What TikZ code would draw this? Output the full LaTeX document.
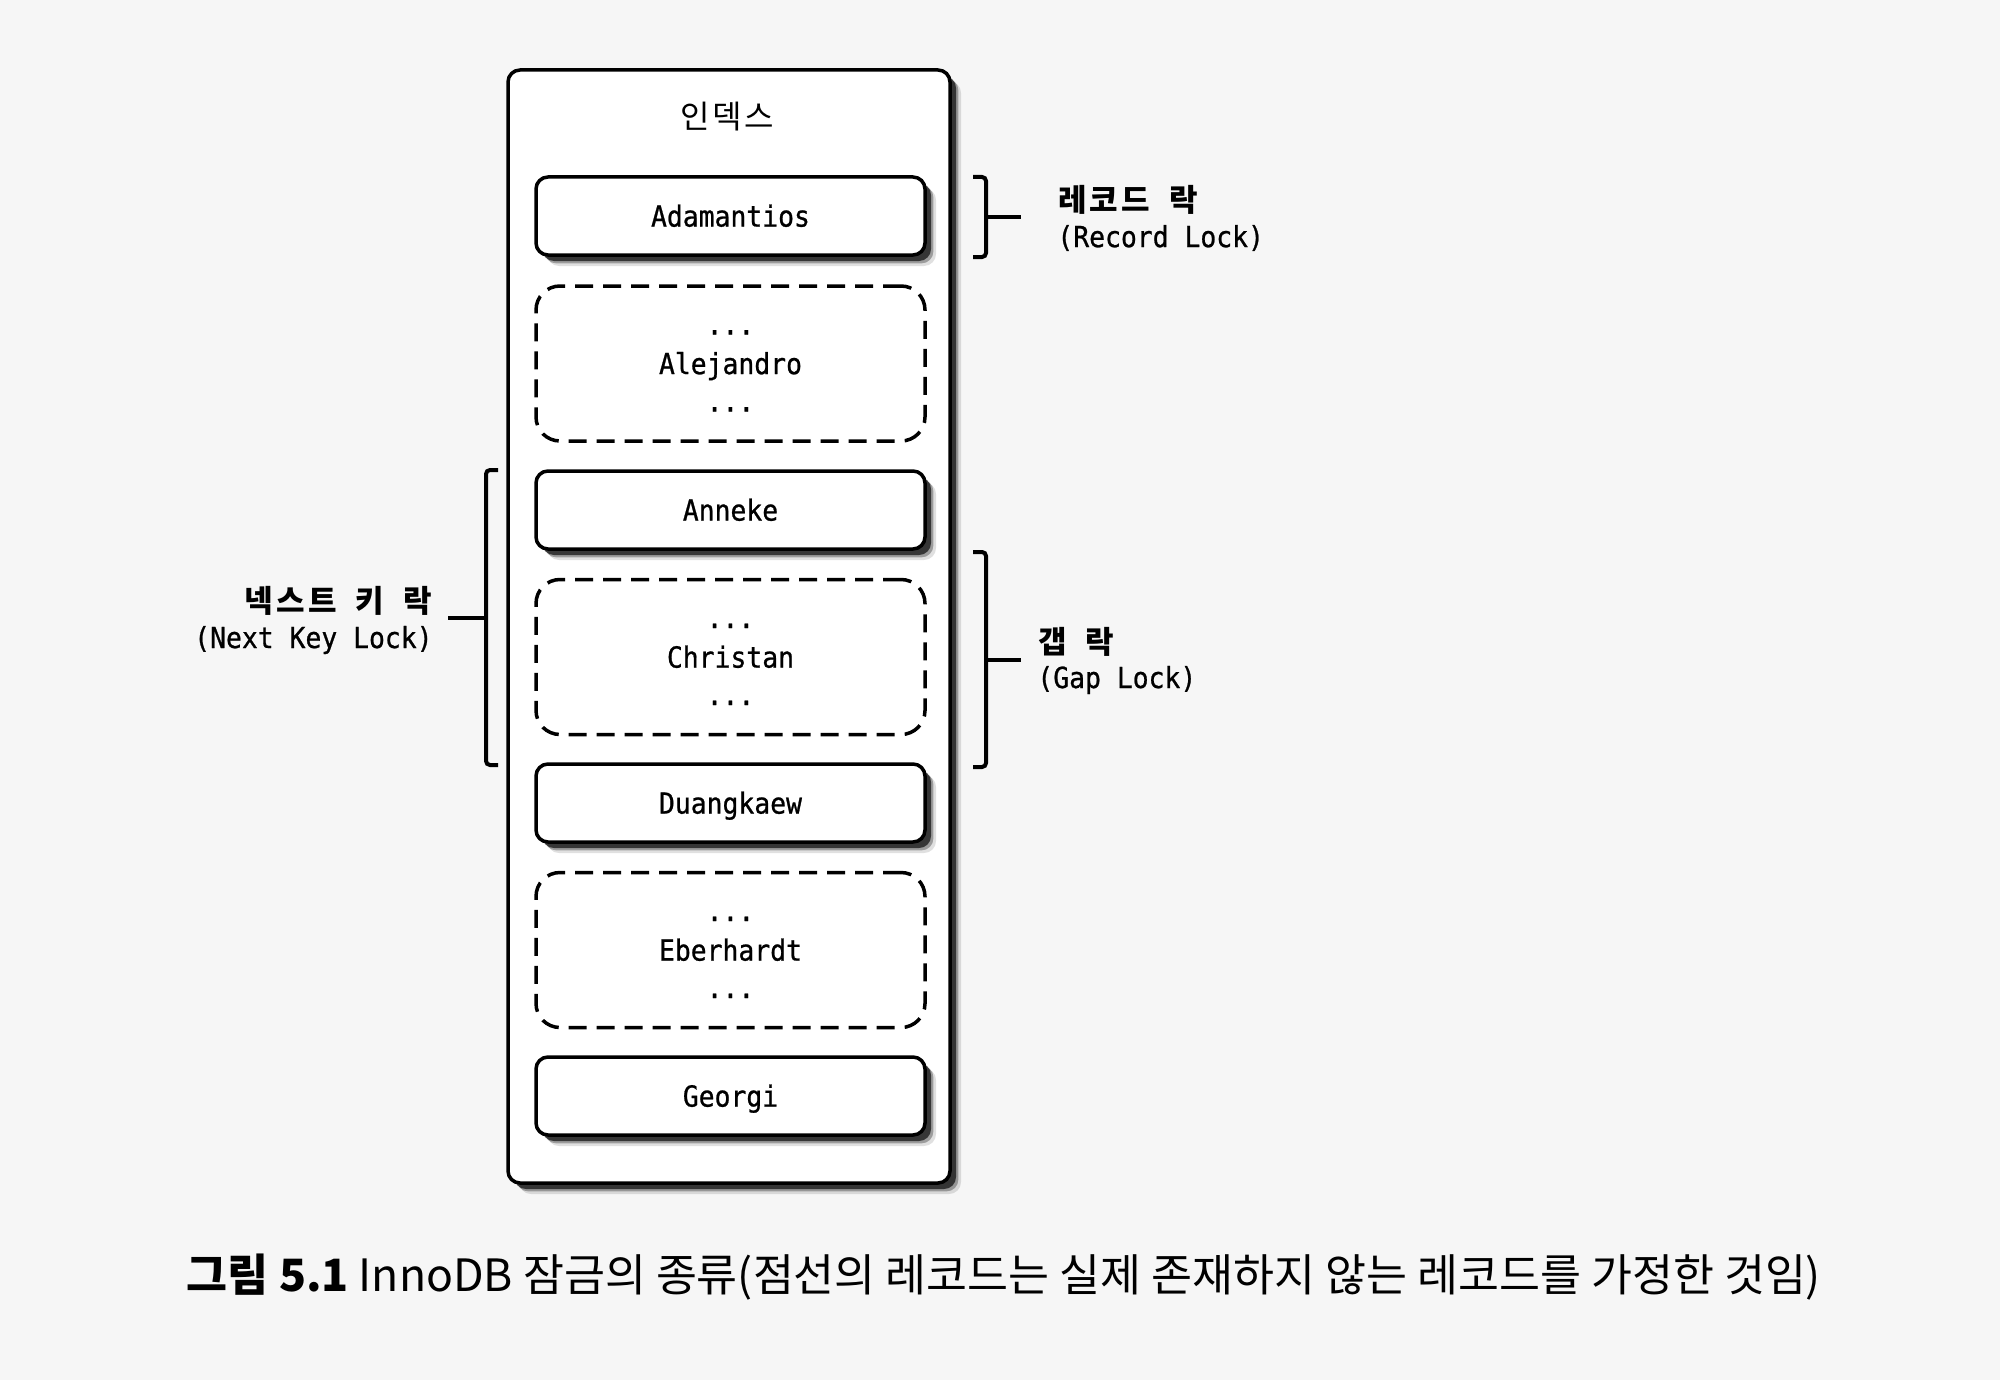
\documentclass[tikz,border=0pt]{standalone}
\usepackage{graphicx}
\usepackage{fontspec}
\setmainfont{Noto Sans CJK KR}
\newfontfamily\mono[FakeStretch=0.91,FakeBold=0.8]{DejaVu Sans Mono}
\newfontfamily\kr{Noto Sans CJK KR}
\usetikzlibrary{shadows,calc}
\definecolor{bgcol}{RGB}{246,246,246}
\newcommand\cellk[1]{\makebox[15.9pt]{#1}}
\newcommand\spk{\hspace{7.95pt}}
\begin{document}
\begin{tikzpicture}[x=0.5pt,y=-0.5pt,
  shd/.style={
    general shadow={shadow xshift=5.5pt, shadow yshift=-5.5pt, fill=black, opacity=0.12},
    general shadow={shadow xshift=4.2pt, shadow yshift=-4.2pt, fill=black, opacity=0.3},
    general shadow={shadow xshift=3pt, shadow yshift=-3pt, fill=black, opacity=0.65}},
  outerbox/.style={draw, line width=1.75pt, rounded corners=6pt, fill=white,
    minimum width=221pt, minimum height=556.5pt, shd},
  recbox/.style={draw, line width=1.75pt, rounded corners=6pt, fill=white,
    minimum width=194.5pt, minimum height=39pt, shd,
    font=\mono\fontsize{14.5pt}{17pt}\selectfont, text height=10.6pt, text depth=0pt},
  gapbox/.style={draw, line width=1.75pt, rounded corners=12pt,
    dash pattern=on 9pt off 5pt,
    minimum width=194.5pt, minimum height=77.5pt},
  mtxt/.style={font=\mono\fontsize{14.5pt}{17pt}\selectfont, inner sep=0pt},
  ltxt/.style={font=\kr\bfseries\fontsize{15.5pt}{18pt}\selectfont, inner sep=0pt},
  brk/.style={line width=2pt, rounded corners=2pt}
]
\fill[bgcol] (0,0) rectangle (2000,1380);
\useasboundingbox (0,0) rectangle (2000,1380);

\node[outerbox] (idx) at (729,626.5) {};
\node[font=\kr\fontsize{16pt}{18pt}\selectfont, inner sep=0pt] (title) at (727,117) {\cellk{인}\cellk{덱}\cellk{스}};

\node[recbox] (r1) at (730.5,216) {Adamantios};
\node[gapbox] (g1) at (730.5,363.5) {};
\node[recbox] (r2) at (730.5,510) {Anneke};
\node[gapbox] (g2) at (730.5,657) {};
\node[recbox] (r3) at (730.5,803) {Duangkaew};
\node[gapbox] (g3) at (730.5,950) {};
\node[recbox] (r4) at (730.5,1096) {Georgi};

\foreach \g/\n in {g1/Alejandro, g2/Christan, g3/Eberhardt}{
  \node[mtxt, text height=10.6pt, text depth=0pt] (\g n) at (\g.center) {\n};
  \node[mtxt, anchor=base] (\g u) at ($(\g.center)+(0,-29)$) {...};
  \node[mtxt, anchor=base] (\g d) at ($(\g.center)+(0,48)$) {...};
}

% Record lock bracket
\coordinate (rt) at (973,177);
\coordinate (rb) at (973,257);
\coordinate (rm) at (1021,217);
\draw[brk] (rt) -- (986,177) -- (986,257) -- (rb);
\draw[line width=2pt] (986,217) -- (rm);
\node[ltxt, anchor=west] (rl1) at (1056,200) {\cellk{레}\cellk{코}\cellk{드}\spk\cellk{락}};
\node[mtxt, anchor=west] (rl2) at (1057,238) {(Record Lock)};

% Gap lock bracket
\coordinate (gt) at (973,552);
\coordinate (gb) at (973,767);
\coordinate (gm) at (1021,659.5);
\draw[brk] (gt) -- (986,552) -- (986,767) -- (gb);
\draw[line width=2pt] (986,659.5) -- (gm);
\node[ltxt, anchor=west] (gl1) at (1036,642) {\cellk{갭}\spk\cellk{락}};
\node[mtxt, anchor=west] (gl2) at (1037,680) {(Gap Lock)};

% Next key lock bracket
\coordinate (nt) at (498,470);
\coordinate (nb) at (498,765);
\coordinate (nm) at (448,617.5);
\draw[brk] (nt) -- (486,470) -- (486,765) -- (nb);
\draw[line width=2pt] (486,617.5) -- (nm);
\node[ltxt, anchor=east] (nl1) at (434,601) {\cellk{넥}\cellk{스}\cellk{트}\spk\cellk{키}\spk\cellk{락}};
\node[mtxt, anchor=east] (nl2) at (433,640) {(Next Key Lock)};

% caption
\node[inner sep=0pt] (cap) at (1004,1277) {\resizebox{817pt}{!}{\fontsize{20pt}{24pt}\selectfont{\bfseries 그림 5.1} InnoDB 잠금의 종류(점선의 레코드는 실제 존재하지 않는 레코드를 가정한 것임)}};
\end{tikzpicture}
\end{document}
